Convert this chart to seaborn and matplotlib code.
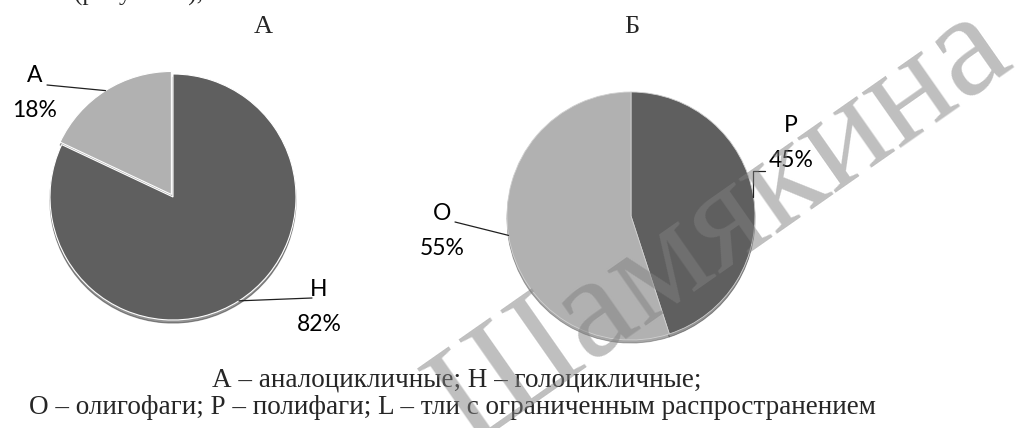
import matplotlib
matplotlib.use("Agg")
import matplotlib.pyplot as plt
import seaborn as sns
import numpy as np

# data for both pies
labels_a = ['А', 'Н']
values_a = [18, 82]
labels_b = ['Р', 'О']
values_b = [45, 55]
titles = ['А', 'Б']
caption = ['А – аналоцикличные; Н – голоцикличные;',
           'О – олигофаги; Р – полифаги; L – тли с ограниченным распространением']

sns.set_style('white')
plt.rcParams['font.family'] = ['Liberation Serif', 'DejaVu Sans']

W, H = 1019, 428
fig = plt.figure(figsize=(W / 100, H / 100), dpi=100)
ax = fig.add_axes([0, 0, 1, 1])

dark, light = '#5f5f5f', '#b1b1b1'
lab_font = dict(family=['Lato', 'DejaVu Sans'], fontsize=16.5, color='black')
shadow = {'ox': 0, 'oy': -2.2, 'shade': 0.55}

# pie A: "А" slice goes counter-clockwise from the top
wa, _ = ax.pie(values_a, colors=[light, dark], startangle=90, counterclock=True,
               center=(173, H - 197), radius=123, explode=[3, 0], shadow=shadow,
               wedgeprops=dict(edgecolor='white', linewidth=0.8), frame=True)
# pie Б: "Р" slice goes clockwise from the top
wb, _ = ax.pie(values_b, colors=[dark, light], startangle=90, counterclock=False,
               center=(631, H - 216), radius=124, shadow=shadow,
               wedgeprops=dict(edgecolor='#d0d0d0', linewidth=0.6), frame=True)
ax.set_xlim(0, W)
ax.set_ylim(0, H)
ax.set_aspect('equal')
ax.axis('off')


def edge_point(w):
    ang = np.deg2rad((w.theta1 + w.theta2) / 2)
    cx, cy = w.center
    return cx + w.r * np.cos(ang), cy + w.r * np.sin(ang)


# label text centre, leader start, connection style
label_pos = [
    (wa[0], labels_a[0], values_a[0], (35, 93), (47, 85), 'arc3'),
    (wa[1], labels_a[1], values_a[1], (319, 307), (312, 298), 'arc3'),
    (wb[0], labels_b[0], values_b[0], (791, 143), (765, 171), 'angle,angleA=0,angleB=90,rad=0'),
    (wb[1], labels_b[1], values_b[1], (442, 231), (455, 222), 'arc3'),
]
for w, lab, val, tpos, lstart, cs in label_pos:
    ax.text(tpos[0], H - tpos[1], f'{lab}\n{val}%', ha='center', va='center',
            linespacing=1.8, **lab_font)
    ax.annotate('', xy=edge_point(w), xytext=(lstart[0], H - lstart[1]),
                arrowprops=dict(arrowstyle='-', color='#202020', lw=0.9,
                                connectionstyle=cs, shrinkA=0, shrinkB=0))

ax.text(263, H - 27, titles[0], ha='center', va='center', fontsize=19)
ax.text(632, H - 27, titles[1], ha='center', va='center', fontsize=19)

ax.text(457, H - 380, caption[0], ha='center', va='center', fontsize=19.5)
ax.text(452, H - 408, caption[1], ha='center', va='center', fontsize=19.5)

# cut-off line of text at the very top
ax.text(74, H - 0.5, '(рисунок 1),', ha='left', va='baseline', fontsize=18)

# watermark
ax.text(722, H - 226, 'Шамякина', ha='center', va='center', rotation=35,
        rotation_mode='anchor', fontsize=106, color='#808080', alpha=0.5, zorder=10)

fig.savefig('out.png', dpi=100)
